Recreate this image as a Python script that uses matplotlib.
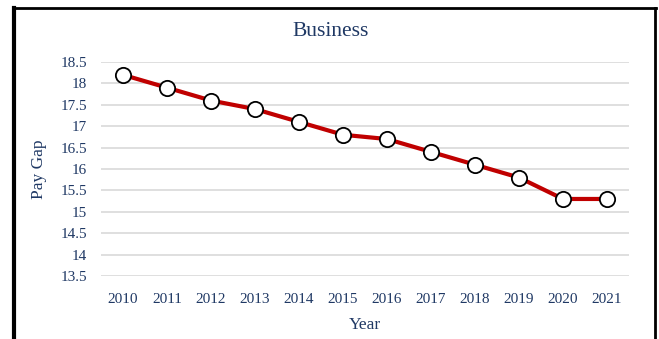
import matplotlib
matplotlib.use("Agg")
import matplotlib.pyplot as plt
from matplotlib.lines import Line2D

# pay gap per anno
years = [2010, 2011, 2012, 2013, 2014, 2015, 2016, 2017, 2018, 2019, 2020, 2021]
pay_gap = [18.2, 17.9, 17.6, 17.4, 17.1, 16.8, 16.7, 16.4, 16.1, 15.8, 15.3, 15.3]
yticks = [13.5, 14, 14.5, 15, 15.5, 16, 16.5, 17, 17.5, 18, 18.5]

NAVY = "#1f3864"
RED = "#c00000"
GRID = "#d9d9d9"

plt.rcParams["font.family"] = ["Liberation Serif", "DejaVu Serif"]

fig = plt.figure(figsize=(6.59, 3.39), dpi=100)
ax = fig.add_axes([0.1533, 0.1858, 0.8012, 0.6313])

x = list(range(len(years)))
ax.plot(x, pay_gap, color=RED, lw=3, zorder=3,
        marker="o", ms=11, mfc="white", mec="black", mew=1.3)

ax.set_xlim(-0.5, len(years) - 0.5)
ax.set_ylim(13.5, 18.5)
ax.set_yticks(yticks)
ax.set_yticklabels(["%g" % v for v in yticks])
ax.set_xticks(x)
ax.set_xticklabels([str(y) for y in years])
ax.grid(axis="y", color=GRID, lw=1.2)
ax.set_axisbelow(True)
for s in ax.spines.values():
    s.set_visible(False)
ax.tick_params(length=0, colors=NAVY, labelsize=11)
ax.tick_params(axis="y", pad=10)
ax.tick_params(axis="x", pad=12)

fig.text(331 / 659, 1 - 31 / 339, "Business", color=NAVY, fontsize=15.5,
         ha="center", va="center")
ax.set_xlabel("Year", color=NAVY, fontsize=12.5, labelpad=8)
ax.set_ylabel("Pay Gap", color=NAVY, fontsize=12.5, labelpad=10)

# cornice nera attorno al grafico
W, H = 659, 339
fig.add_artist(Line2D([14 / W, 14 / W], [0, 1 - 8 / H], color="black", lw=3, transform=fig.transFigure))
fig.add_artist(Line2D([13 / W, 656 / W], [1 - 8 / H, 1 - 8 / H], color="black", lw=2, transform=fig.transFigure))
fig.add_artist(Line2D([655 / W, 655 / W], [0, 1 - 8 / H], color="black", lw=2, transform=fig.transFigure))

fig.savefig("out.png", dpi=100, facecolor="white")
